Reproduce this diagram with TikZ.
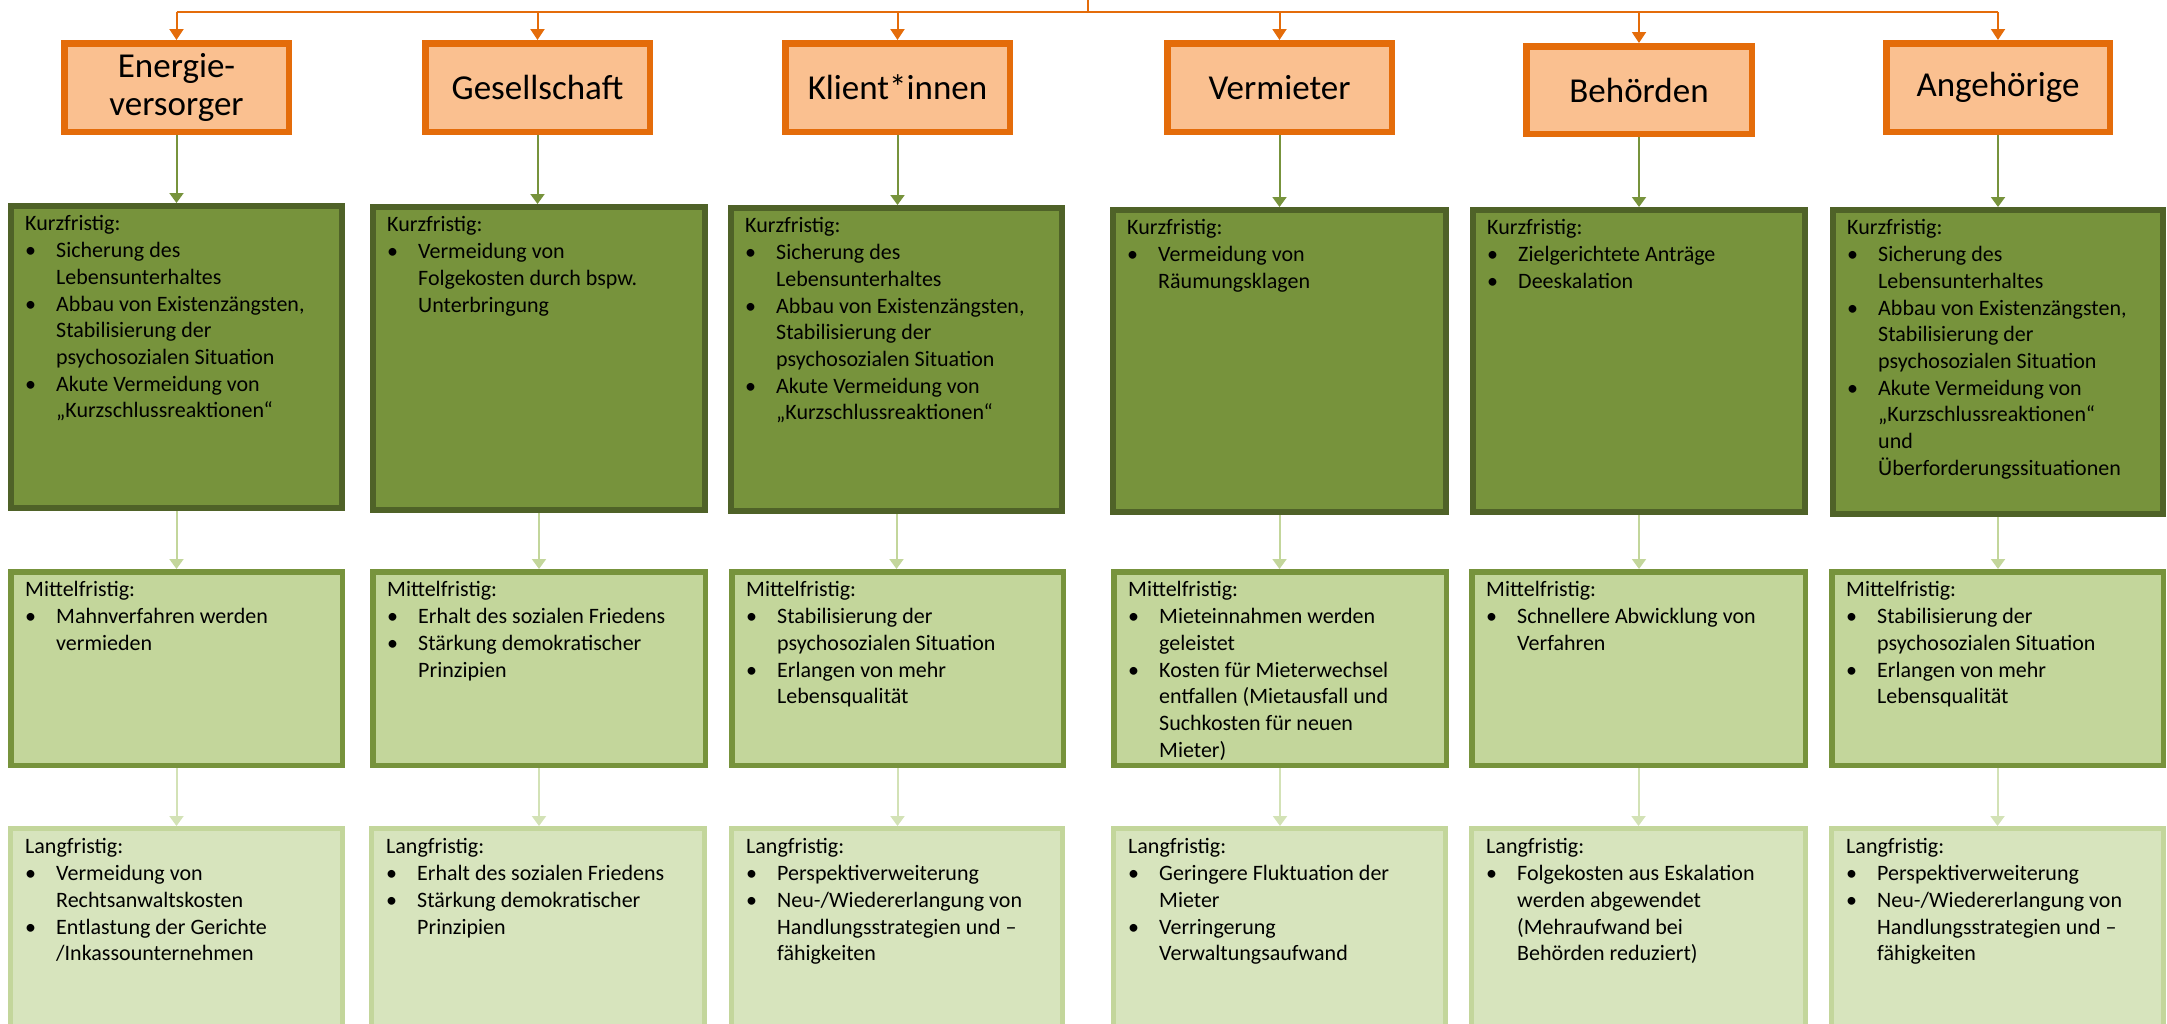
\documentclass[tikz,border=0pt]{standalone}
\usepackage{fontspec}
\setmainfont{Carlito}
\usetikzlibrary{arrows.meta}
\definecolor{orB}{HTML}{E46C0A}
\definecolor{orF}{HTML}{FAC090}
\definecolor{kB}{HTML}{4F6228}
\definecolor{kF}{HTML}{77933C}
\definecolor{mB}{HTML}{77933C}
\definecolor{mF}{HTML}{C3D69B}
\definecolor{lB}{HTML}{C3D69B}
\definecolor{lF}{HTML}{D7E4BD}
\definecolor{ka}{HTML}{C3D69B}
\definecolor{la}{HTML}{D3E2B6}
\tikzset{
 hdr/.style={draw=orB, fill=orF},
 kbox/.style={draw=kB, fill=kF},
 mbox/.style={draw=mB, fill=mF},
 lbox/.style={draw=lB, fill=lF},
 txt/.style={anchor=north west, inner sep=0pt, align=left, font=\fontsize{22}{26.7}\selectfont},
 htxt/.style={align=center, inner sep=0pt, font=\fontsize{35}{38}\selectfont},
 oarr/.style={draw=orB, line width=2pt, -{Triangle[length=11pt,width=14pt]}},
 oline/.style={draw=orB, line width=2pt},
 garr/.style={draw=kF, line width=2pt, -{Triangle[length=10pt,width=14pt]}},
 karr/.style={draw=ka, line width=2pt, -{Triangle[length=10pt,width=14pt]}},
 larr/.style={draw=la, line width=2pt, -{Triangle[length=10pt,width=14pt]}},
}
\newcommand\mkbox[7]{% name, style, x1, y1, x2, y2, lw
 \pgfmathsetmacro\bw{#5-#3-#7}\pgfmathsetmacro\bh{#6-#4-#7}%
 \pgfmathsetmacro\bcx{(#3+#5)/2}\pgfmathsetmacro\bcy{(#4+#6)/2}%
 \node[#2, line width=#7pt, inner sep=0pt, minimum width=\bw pt, minimum height=\bh pt] (#1) at (\bcx,\bcy) {};}
\newcommand\bl{\makebox[31pt][l]{\hspace{0pt}\textbullet}}
\newcommand\cl{\hspace*{31pt}}
\newcommand\boxtext[2]{\node[txt] (#1t) at ([xshift=17pt,yshift=-12.5pt]#1.north west) {#2};}
\begin{document}
\begin{tikzpicture}[x=1pt,y=-1pt]
\useasboundingbox (0,0) rectangle (2167,1023);
\clip (0,0) rectangle (2167,1023);
% header boxes
\mkbox{h1}{hdr}{61}{40}{292}{135}{6.5}
\mkbox{h2}{hdr}{422}{40}{653}{135}{6.5}
\mkbox{h3}{hdr}{782}{40}{1013}{135}{6.5}
\mkbox{h4}{hdr}{1164}{40}{1395}{135}{6.5}
\mkbox{h5}{hdr}{1523}{43}{1755}{137}{6.5}
\mkbox{h6}{hdr}{1883}{40}{2113}{135}{6.5}
\node[htxt] (h1t) at (h1.center) {Energie-\\versorger};
\node[htxt] (h2t) at (h2.center) {Gesellschaft};
\node[htxt] (h3t) at (h3.center) {Klient*innen};
\node[htxt] (h4t) at (h4.center) {Vermieter};
\node[htxt] (h5t) at (h5.center) {Behörden};
\node[htxt] (h6t) at (h6.center) {Angehörige};
% short-term boxes
\mkbox{k1}{kbox}{8}{203}{345}{511}{6}
\mkbox{k2}{kbox}{370}{204}{708}{513}{6}
\mkbox{k3}{kbox}{728}{205}{1065}{514}{6}
\mkbox{k4}{kbox}{1110}{207}{1449}{515}{6}
\mkbox{k5}{kbox}{1470}{207}{1808}{515}{6}
\mkbox{k6}{kbox}{1830}{207}{2166}{517}{6}
% mid-term boxes
\mkbox{m1}{mbox}{8}{569}{345}{768}{5.5}
\mkbox{m2}{mbox}{370}{569}{708}{768}{5.5}
\mkbox{m3}{mbox}{729}{569}{1066}{768}{5.5}
\mkbox{m4}{mbox}{1111}{569}{1449}{768}{5.5}
\mkbox{m5}{mbox}{1469}{569}{1808}{768}{5.5}
\mkbox{m6}{mbox}{1829}{569}{2166}{768}{5.5}
% long-term boxes
\mkbox{l1}{lbox}{8}{826}{345}{1030}{5}
\mkbox{l2}{lbox}{369}{826}{707}{1030}{5}
\mkbox{l3}{lbox}{729}{826}{1065}{1030}{5}
\mkbox{l4}{lbox}{1111}{826}{1448}{1030}{5}
\mkbox{l5}{lbox}{1469}{826}{1808}{1030}{5}
\mkbox{l6}{lbox}{1829}{826}{2166}{1030}{5}
% connectors top
\coordinate (top) at (1088,0);
\coordinate (jn) at (1088,12);
\draw[oline] (top) -- (jn);
\draw[oline] (h1.north |- jn) -- (h6.north |- jn);
\foreach \i in {1,...,6}{
  \draw[oarr] (h\i.north |- jn) -- (h\i.north);
  \draw[garr] (h\i.south) -- (h\i.south |- k\i.north);
  \draw[karr] (k\i.south) -- (k\i.south |- m\i.north);
  \draw[larr] (m\i.south) -- (m\i.south |- l\i.north);
}
% texts column 1
\boxtext{k1}{Kurzfristig:\\
\bl Sicherung des\\
\cl Lebensunterhaltes\\
\bl Abbau von Existenzängsten,\\
\cl Stabilisierung der\\
\cl psychosozialen Situation\\
\bl Akute Vermeidung von\\
\cl „Kurzschlussreaktionen“}
\boxtext{m1}{Mittelfristig:\\
\bl Mahnverfahren werden\\
\cl vermieden}
\boxtext{l1}{Langfristig:\\
\bl Vermeidung von\\
\cl Rechtsanwaltskosten\\
\bl Entlastung der Gerichte\\
\cl /Inkassounternehmen}
% column 2
\boxtext{k2}{Kurzfristig:\\
\bl Vermeidung von\\
\cl Folgekosten durch bspw.\\
\cl Unterbringung}
\boxtext{m2}{Mittelfristig:\\
\bl Erhalt des sozialen Friedens\\
\bl Stärkung demokratischer\\
\cl Prinzipien}
\boxtext{l2}{Langfristig:\\
\bl Erhalt des sozialen Friedens\\
\bl Stärkung demokratischer\\
\cl Prinzipien}
% column 3
\boxtext{k3}{Kurzfristig:\\
\bl Sicherung des\\
\cl Lebensunterhaltes\\
\bl Abbau von Existenzängsten,\\
\cl Stabilisierung der\\
\cl psychosozialen Situation\\
\bl Akute Vermeidung von\\
\cl „Kurzschlussreaktionen“}
\boxtext{m3}{Mittelfristig:\\
\bl Stabilisierung der\\
\cl psychosozialen Situation\\
\bl Erlangen von mehr\\
\cl Lebensqualität}
\boxtext{l3}{Langfristig:\\
\bl Perspektiverweiterung\\
\bl Neu-/Wiedererlangung von\\
\cl Handlungsstrategien und –\\
\cl fähigkeiten}
% column 4
\boxtext{k4}{Kurzfristig:\\
\bl Vermeidung von\\
\cl Räumungsklagen}
\boxtext{m4}{Mittelfristig:\\
\bl Mieteinnahmen werden\\
\cl geleistet\\
\bl Kosten für Mieterwechsel\\
\cl entfallen (Mietausfall und\\
\cl Suchkosten für neuen\\
\cl Mieter)}
\boxtext{l4}{Langfristig:\\
\bl Geringere Fluktuation der\\
\cl Mieter\\
\bl Verringerung\\
\cl Verwaltungsaufwand}
% column 5
\boxtext{k5}{Kurzfristig:\\
\bl Zielgerichtete Anträge\\
\bl Deeskalation}
\boxtext{m5}{Mittelfristig:\\
\bl Schnellere Abwicklung von\\
\cl Verfahren}
\boxtext{l5}{Langfristig:\\
\bl Folgekosten aus Eskalation\\
\cl werden abgewendet\\
\cl (Mehraufwand bei\\
\cl Behörden reduziert)}
% column 6
\boxtext{k6}{Kurzfristig:\\
\bl Sicherung des\\
\cl Lebensunterhaltes\\
\bl Abbau von Existenzängsten,\\
\cl Stabilisierung der\\
\cl psychosozialen Situation\\
\bl Akute Vermeidung von\\
\cl „Kurzschlussreaktionen“\\
\cl und\\
\cl Überforderungssituationen}
\boxtext{m6}{Mittelfristig:\\
\bl Stabilisierung der\\
\cl psychosozialen Situation\\
\bl Erlangen von mehr\\
\cl Lebensqualität}
\boxtext{l6}{Langfristig:\\
\bl Perspektiverweiterung\\
\bl Neu-/Wiedererlangung von\\
\cl Handlungsstrategien und –\\
\cl fähigkeiten}
\end{tikzpicture}
\end{document}
